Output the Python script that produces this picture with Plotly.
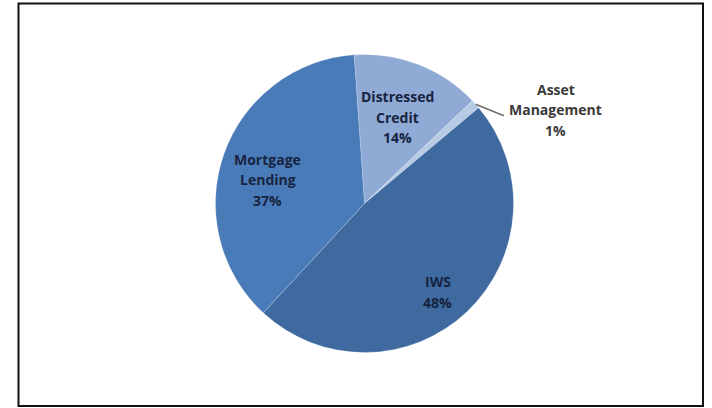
import math
import plotly.graph_objects as go

# Revenue mix by business segment
segments = ["Distressed Credit", "Asset Management", "IWS", "Mortgage Lending"]
shares = [14, 1, 48, 37]
colors = ["#8EAAD5", "#B7CBE5", "#3E6AA0", "#4A7BB9"]

W, H = 712, 408
CX, CY, R = 364.5, 203.5, 149   # pie centre / radius in pixels
START = 94                      # math angle (deg) where the first slice starts

# label placement per segment: (radius factor, angular nudge in degrees)
placement = {
    "Distressed Credit": (0.62, 0.0),
    "Asset Management": (1.43, -15.7),
    "IWS": (0.77, -3.9),
    "Mortgage Lending": (0.67, 5.6),
}
LINE_GAP = 20.5

def px(x):
    return x / W

def py(y):
    return 1 - y / H

fig = go.Figure(
    go.Pie(
        labels=segments,
        values=shares,
        sort=False,
        direction="clockwise",
        rotation=-(START - 90),
        marker=dict(colors=colors, line=dict(color="rgba(255,255,255,0.35)", width=0.6)),
        textinfo="none",
        hoverinfo="label+percent",
        showlegend=False,
        domain=dict(x=[px(CX - R), px(CX + R)], y=[py(CY + R), py(CY - R)]),
    )
)

annotations = []
shapes = []
total = sum(shares)
acc = 0
for name, val in zip(segments, shares):
    a0 = START - acc / total * 360
    acc += val
    a1 = START - acc / total * 360
    mid = (a0 + a1) / 2
    rf, nudge = placement[name]
    ang = math.radians(mid + nudge)
    lx = CX + rf * R * math.cos(ang)
    ly = CY - rf * R * math.sin(ang)
    outside = rf > 1
    lines = name.split(" ") + [f"{val / total * 100:.0f}%"]
    n = len(lines)
    for i, t in enumerate(lines):
        annotations.append(dict(
            x=px(lx), y=py(ly + (i - (n - 1) / 2) * LINE_GAP),
            xref="paper", yref="paper", text=t, showarrow=False,
            xanchor="center", yanchor="middle",
            font=dict(family="Open Sans", size=14, color="#3a3a3a" if outside else "#172440", weight="bold"),
        ))
    if outside:
        m = math.radians(mid)
        ex = CX + R * math.cos(m)
        ey = CY - R * math.sin(m)
        shapes.append(dict(
            type="line", xref="paper", yref="paper",
            x0=px(ex), y0=py(ey), x1=px(lx - 52), y1=py(ly + 6),
            line=dict(color="#6d6d6d", width=1.5),
        ))

# chart frame
shapes.append(dict(
    type="rect", xref="paper", yref="paper",
    x0=px(18.5), y0=py(406), x1=px(703), y1=py(3.5),
    line=dict(color="#111111", width=2), fillcolor="rgba(0,0,0,0)",
))

fig.update_layout(
    width=W, height=H,
    margin=dict(l=0, r=0, t=0, b=0),
    paper_bgcolor="white", plot_bgcolor="white",
    annotations=annotations, shapes=shapes,
)

fig.write_html("out.html")
